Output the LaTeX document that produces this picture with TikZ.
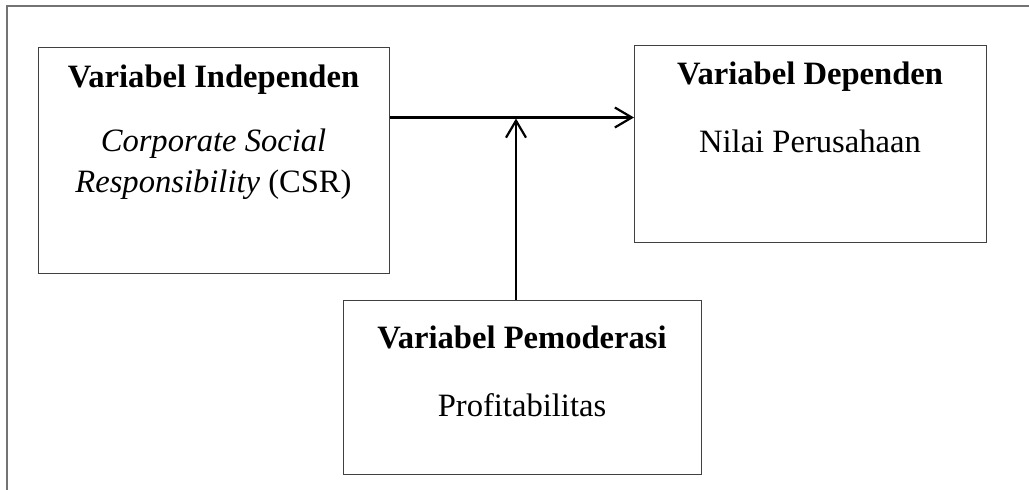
\documentclass[tikz,border=0pt]{standalone}
\usepackage{fontspec}
\setmainfont{Liberation Serif}
\usetikzlibrary{arrows.meta}
\begin{document}
\begin{tikzpicture}[x=0.5pt,y=-0.5pt,
  frameline/.style={draw=black!55, line width=0.7pt},
  box/.style={draw=black!75, line width=0.6pt, rectangle, inner sep=0pt, anchor=north west},
  txt/.style={anchor=base, inner sep=0pt, font=\fontsize{16.3}{20.5}\selectfont},
  arr/.style={draw=black, line width=1.1pt, -{Straight Barb[length=8.5pt,width=10pt,line width=1.1pt]}}]
\useasboundingbox (0,0) rectangle (1029,490);
\draw[frameline] (7,491) -- (7,6) -- (1030,6);
% boxes
\node[box, minimum width=175.5pt, minimum height=113pt] (b1) at (38,47) {};
\node[box, minimum width=176pt, minimum height=98.5pt] (b2) at (634,45) {};
\node[box, minimum width=179pt, minimum height=87pt] (b3) at (343,300) {};
% texts
\node[txt] (t1a) at (213.5,88) {\bfseries Variabel Independen};
\node[txt] (t1b) at (213.5,152) {\itshape Corporate Social};
\node[txt] (t1c) at (213.5,193) {\itshape Responsibility\/\upshape{} (CSR)};
\node[txt] (t2a) at (810,85) {\bfseries Variabel Dependen};
\node[txt] (t2b) at (810,153) {Nilai Perusahaan};
\node[txt] (t3a) at (522,349) {\bfseries Variabel Pemoderasi};
\node[txt] (t3b) at (522,417) {Profitabilitas};
% connectors
\coordinate (h) at (0,117.5);
\coordinate (v) at (516,0);
\coordinate (m) at (516,118.5);
\draw[arr] (b1.east |- h) -- (b2.west |- h);
\draw[arr] (b3.north -| v) -- (m);
\end{tikzpicture}
\end{document}
